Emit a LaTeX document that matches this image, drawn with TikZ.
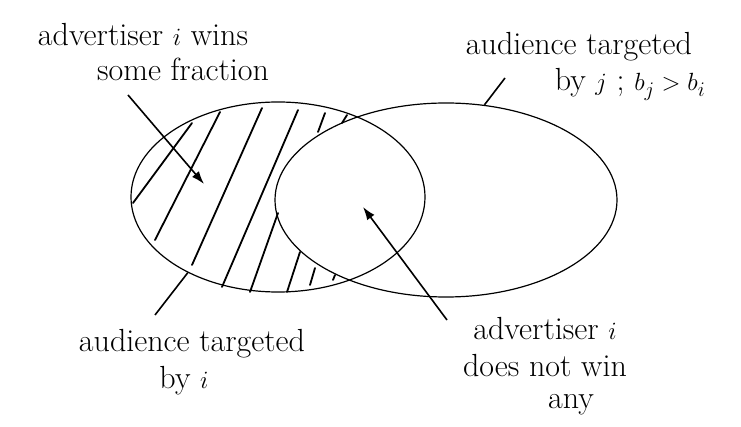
\documentclass[tikz,border=0pt]{standalone}
\usepackage{amsmath}
\usepackage{tikz}
\usetikzlibrary{arrows.meta,shapes.geometric}

\begin{document}
\begin{tikzpicture}[
    x=1pt, y=-1pt,
    hand/.style={font=\fontsize{32}{38}\selectfont, inner sep=0pt, anchor=base},
    set/.style={draw, ellipse, line width=1.2pt, inner sep=0pt},
    hatch/.style={line width=1.8pt, line cap=round},
    lead/.style={line width=1.6pt},
    arr/.style={lead, -{Latex[length=13pt, width=9pt]}},
]
\useasboundingbox (0,0) rectangle (741,427);
% pixel coordinates of the 741 x 427 sketch, y going down
% ---------------- the two audiences ----------------
\node[set, minimum width=294pt, minimum height=190pt] (ei) at (278,197) {};
\node[set, minimum width=342pt, minimum height=194pt] (ej) at (446,200) {};

% hatching of the part that only i targets
\foreach \a/\b/\c/\d in {133/203/192/123, 155/240/220/112, 192/265/262/108,
    222/287/298/110, 250/292/278/213, 287/292/300/252, 310/285/315/268,
    333/280/335/275, 318/132/325/113, 342/123/347/115}
  \draw[hatch] (\a,\b) -- (\c,\d);

% ---------------- labels (placed on their baselines) ----------------
\node[hand] (wi1) at (143,46) {advertiser $i$ wins};
\node[hand] (wi2) at (183,81) {some fraction};
\node[hand] (tj1) at (579,55) {audience targeted};
\node[hand] (tj2) at (630,91) {by $j$ ; $b_j > b_i$};
\node[hand] (ti1) at (192,352) {audience targeted};
\node[hand] (ti2) at (184,388) {by $i$};
\node[hand] (ni1) at (545,340) {advertiser $i$};
\node[hand] (ni2) at (545,376) {does not win};
\node[hand] (ni3) at (571,408) {any};

% ---------------- leaders ----------------
\coordinate (wi-from) at (128,95);
\coordinate (wi-to) at (204,184);
\coordinate (ni-from) at (447,320);
\coordinate (ni-to) at (363,207);
\coordinate (tj-from) at (505,78);
\coordinate (ti-from) at (155,315);
\draw[arr] (wi-from) -- (wi-to);
\draw[arr] (ni-from) -- (ni-to);
\draw[lead] (tj-from) -- (ej.68);
\draw[lead] (ti-from) -- (ei.220);
\end{tikzpicture}
\end{document}
